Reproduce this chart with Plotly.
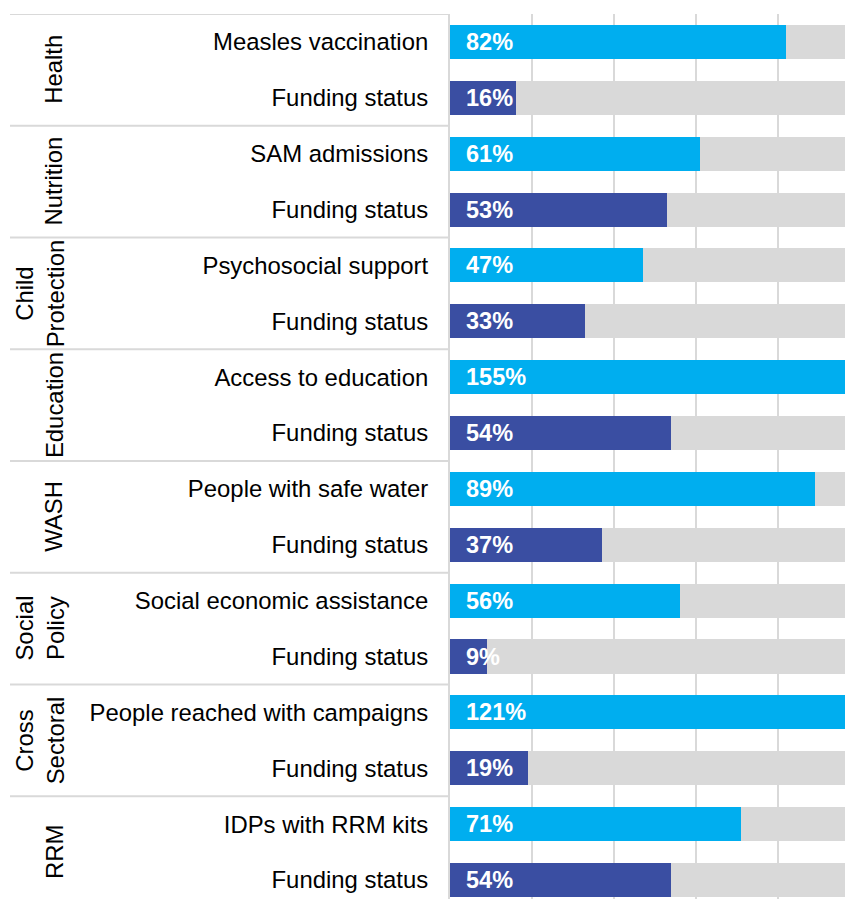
import plotly.graph_objects as go

sectors = ["Health", "Nutrition", "Child<br>Protection", "Education", "WASH",
           "Social<br>Policy", "Cross<br>Sectoral", "RRM"]
indicators = ["Measles vaccination", "SAM admissions", "Psychosocial support",
              "Access to education", "People with safe water",
              "Social economic assistance", "People reached with campaigns",
              "IDPs with RRM kits"]
indicator_pct = [82, 61, 47, 155, 89, 56, 121, 71]
funding_pct = [16, 53, 33, 54, 37, 9, 19, 54]

LIGHT = "#00AEEF"
DARK = "#3A4EA2"
GREY = "#D9D9D9"
FONT = "Liberation Sans, Arial, sans-serif"
FS = 23.9

# build row arrays (two rows per sector)
row_labels, row_vals, row_colors = [], [], []
for ind, iv, fv in zip(indicators, indicator_pct, funding_pct):
    row_labels += [ind, "Funding status"]
    row_vals += [iv / 100, fv / 100]
    row_colors += [LIGHT, DARK]
rows = list(range(len(row_labels)))

fig = go.Figure()
fig.add_trace(go.Bar(
    y=rows, x=[1.0] * len(rows), orientation="h", width=0.61,
    marker=dict(color=GREY, line=dict(width=0)), hoverinfo="skip", showlegend=False))
fig.add_trace(go.Bar(
    y=rows, x=row_vals, orientation="h", width=0.61,
    marker=dict(color=row_colors, line=dict(width=0)), showlegend=False))

annotations = []
for r, v in zip(rows, row_vals):
    annotations.append(dict(
        x=0, y=r, xref="x", yref="y", text=f"<b>{round(v*100)}%</b>",
        showarrow=False, xanchor="left", yanchor="middle", xshift=14,
        font=dict(family=FONT, size=23.5, color="white")))

shapes = []
for i, s in enumerate(sectors):
    two = "<br>" in s
    annotations.append(dict(
        x=0, y=2 * i + 0.5, xref="paper", yref="y", text=s, textangle=-90,
        showarrow=False, xanchor="center", yanchor="middle",
        xshift=-410 if two else -396,
        font=dict(family=FONT, size=FS, color="#000000")))
    shapes.append(dict(type="line", xref="paper", yref="y",
                       x0=-440 / 403, x1=0, y0=2 * i - 0.5, y1=2 * i - 0.5,
                       line=dict(color=GREY, width=2)))

fig.update_layout(
    width=845, height=891,
    margin=dict(l=442, r=0, t=6, b=0),
    plot_bgcolor="white", paper_bgcolor="white",
    barmode="overlay", bargap=0,
    annotations=annotations, shapes=shapes,
    xaxis=dict(range=[0, 403 / 410], dtick=0.2, showgrid=True, gridcolor=GREY,
               gridwidth=1.6, showticklabels=False, zeroline=False, showline=False),
    yaxis=dict(range=[15.34, -0.5], tickvals=rows, ticktext=row_labels,
               showgrid=False, zeroline=False, showline=True, linecolor=GREY,
               linewidth=2, ticks="", ticklabelstandoff=15,
               tickfont=dict(family=FONT, size=FS, color="#000000")),
    font=dict(family=FONT),
)

fig.write_html("out.html")
